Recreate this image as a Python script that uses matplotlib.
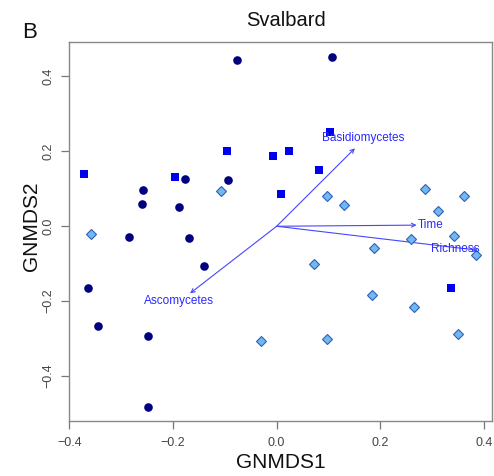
import numpy as np
import matplotlib.pyplot as plt

plt.rcParams['font.family'] = ['Liberation Sans', 'DejaVu Sans']

# site scores, group 1 (navy circles)
circ_x = [-0.077, 0.106, -0.177, -0.093, -0.258, -0.259, -0.188, -0.285, -0.170,
          -0.140, -0.364, -0.344, -0.249, -0.249]
circ_y = [0.443, 0.453, 0.125, 0.123, 0.098, 0.060, 0.052, -0.028, -0.031,
          -0.107, -0.166, -0.267, -0.292, -0.482]

# group 2 (blue squares)
sq_x = [0.102, -0.095, -0.008, 0.024, -0.372, -0.197, 0.082, 0.008, 0.336]
sq_y = [0.251, 0.200, 0.187, 0.200, 0.139, 0.132, 0.149, 0.086, -0.166]

# group 3 (light blue diamonds)
dia_x = [-0.358, -0.108, 0.098, 0.129, 0.287, 0.312, 0.362, 0.259, 0.342,
         0.384, 0.188, 0.072, 0.184, 0.264, -0.030, 0.098, 0.349]
dia_y = [-0.020, 0.094, 0.081, 0.058, 0.100, 0.041, 0.082, -0.035, -0.027,
         -0.076, -0.057, -0.100, -0.184, -0.215, -0.305, -0.300, -0.288]

# fitted vectors
vec_names = ['Basidiomycetes', 'Time', 'Richness', 'Ascomycetes']
vec_x = [0.151, 0.270, 0.388, -0.167]
vec_y = [0.208, 0.003, -0.064, -0.179]
lab_x = [0.166, 0.298, 0.345, -0.188]
lab_y = [0.235, 0.003, -0.062, -0.199]

fig = plt.figure(figsize=(4.94, 4.76), dpi=100)
ax = fig.add_axes([69.3 / 494, 1 - 420.7 / 476, (492.3 - 69.3) / 494, (420.7 - 42.3) / 476])

ax.plot(circ_x, circ_y, 'o', color='#000080', ms=6.2, mew=0, zorder=3)
ax.plot(sq_x, sq_y, 's', color='#0000ee', ms=5.4, mew=0, zorder=3)
ax.plot(dia_x, dia_y, 'D', mfc='#72b8f0', mec='#2f5fb5', ms=4.8, mew=0.8, zorder=3)

for name, vx, vy, lx, ly in zip(vec_names, vec_x, vec_y, lab_x, lab_y):
    ax.annotate('', xy=(vx, vy), xytext=(0, 0),
                arrowprops=dict(arrowstyle='->', color='#4646ff', lw=0.8,
                                shrinkA=0, shrinkB=0, mutation_scale=7), zorder=2)
    ax.text(lx, ly, name, color='#2a2aff', fontsize=8.5, ha='center', va='center', zorder=4)

ax.set_xlim(-0.4, 0.416)
ax.set_ylim(-0.519, 0.491)
ax.set_xticks([-0.4, -0.2, 0.0, 0.2, 0.4])
ax.set_yticks([-0.4, -0.2, 0.0, 0.2, 0.4])
ax.set_xticklabels(['\u22120.4', '\u22120.2', '0.0', '0.2', '0.4'])
ax.set_yticklabels(['\u22120.4', '\u22120.2', '0.0', '0.2', '0.4'], rotation=90, va='center')
ax.tick_params(direction='out', length=5.5, width=0.9, color='#777777',
               labelsize=9, labelcolor='#444444')
ax.tick_params(axis='x', pad=6)
ax.tick_params(axis='y', pad=5)
for s in ax.spines.values():
    s.set_color('#888888')
    s.set_linewidth(1.0)

fig.text(281 / 494, 1 - 463 / 476, 'GNMDS1', fontsize=15, ha='center', va='center', color='#111111')
fig.text(31 / 494, 1 - 226 / 476, 'GNMDS2', fontsize=15, ha='center', va='center',
         rotation=90, color='#111111')
fig.text(285.7 / 494, 1 - 21 / 476, 'Svalbard', fontsize=14.5, ha='center', va='center', color='#111111')
fig.text(30 / 494, 1 - 33 / 476, 'B', fontsize=16, ha='center', va='center', color='#111111')

fig.savefig('out.png', dpi=100)
